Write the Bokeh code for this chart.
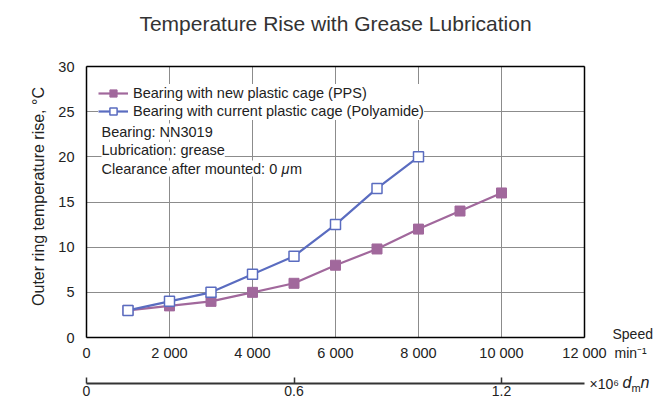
import math
from bokeh.plotting import figure
from bokeh.models import (LinearAxis, Range1d, FixedTicker, Label, Legend, LegendItem)
from bokeh.embed import file_html
from bokeh.resources import INLINE

# ---- data ----
speed_pps = [1000, 2000, 3000, 4000, 5000, 6000, 7000, 8000, 9000, 10000]
temp_pps = [3.0, 3.5, 4.0, 5.0, 6.0, 8.0, 9.8, 12.0, 14.0, 16.0]
speed_pa = [1000, 2000, 3000, 4000, 5000, 6000, 7000, 8000]
temp_pa = [3.0, 4.0, 5.0, 7.0, 9.0, 12.5, 16.5, 20.0]
x_ticks = [0, 2000, 4000, 6000, 8000, 10000, 12000]
x_tick_labels = ["0", "2 000", "4 000", "6 000", "8 000", "10 000", "12 000"]
y_ticks = [0, 5, 10, 15, 20, 25, 30]
dmn_ticks = [0, 0.6, 1.2]
dm_mm = 120  # mean diameter, dmn = dm * n
series_names = ["Bearing with new plastic cage (PPS)",
                "Bearing with current plastic cage (Polyamide)"]
notes = ["Bearing: NN3019", "Lubrication: grease"]
note_clear = ["Clearance after mounted: 0 ", "\u03bc", "m"]
title_text = "Temperature Rise with Grease Lubrication"
y_title = "Outer ring temperature rise, \u00b0C"
x_unit_top, x_unit_bottom = "Speed", "min\u207b\u00b9"
dmn_unit = ["\u00d710\u2076", "d", "m", "n"]

# ---- layout (pixels) ----
W, H = 654, 400
BOX_L, BOX_R, BOX_T, BOX_B = 86, 584, 66, 337
X_MAX, Y_MAX = 12000, 30
SX = X_MAX / (BOX_R - BOX_L)      # data units per px
SY = Y_MAX / (BOX_B - BOX_T)


def px2x(px):
    return (px - BOX_L) * SX


def px2y(py):
    return (BOX_B - py) * SY


FONT = "Liberation Sans"
PURPLE = "#A1689C"
BLUE = "#5A6CC0"
TXT = "#222222"
GRID = "#8c8c8c"
FS = "14.5px"

p = figure(width=W, height=H, output_backend="svg", toolbar_location=None, title=None,
           x_range=Range1d(px2x(0), px2x(W)), y_range=Range1d(px2y(H), px2y(0)),
           min_border=0, min_border_left=0, min_border_right=0, min_border_top=0,
           min_border_bottom=0, x_axis_location=None, y_axis_location=None)
p.background_fill_color = "white"
p.border_fill_color = "white"
p.outline_line_color = None
p.grid.visible = False


def plain(axis):
    axis.minor_tick_line_color = None
    axis.minor_tick_in = 0
    axis.minor_tick_out = 0
    axis.major_label_text_font = FONT
    axis.major_label_text_font_size = FS
    axis.major_label_text_color = TXT
    return axis


# speed axis: labels + vertical grid lines drawn as long inward ticks
xax = plain(LinearAxis(ticker=FixedTicker(ticks=x_ticks), fixed_location=0,
                       bounds=(0, X_MAX), level="underlay",
                       major_label_overrides={t: s for t, s in zip(x_ticks, x_tick_labels)}))
xax.axis_line_color = None
xax.major_tick_line_color = GRID
xax.major_tick_line_width = 1
xax.major_tick_in = BOX_B - BOX_T
xax.major_tick_out = 0
xax.major_label_standoff = 7
p.add_layout(xax, "below")

# temperature axis: labels + horizontal grid lines
yax = plain(LinearAxis(ticker=FixedTicker(ticks=y_ticks), fixed_location=0,
                       bounds=(0, Y_MAX), level="underlay"))
yax.axis_line_color = None
yax.major_tick_line_color = GRID
yax.major_tick_line_width = 1
yax.major_tick_in = BOX_R - BOX_L
yax.major_tick_out = 0
yax.major_label_standoff = 12
p.add_layout(yax, "left")

# dmn axis
p.extra_x_ranges = {"dmn": Range1d(px2x(0) * dm_mm / 1e6, px2x(W) * dm_mm / 1e6)}
dax = plain(LinearAxis(x_range_name="dmn", ticker=FixedTicker(ticks=dmn_ticks),
                       fixed_location=px2y(383), bounds=(0, X_MAX * dm_mm / 1e6)))
dax.axis_line_color = "#333333"
dax.axis_line_width = 2
dax.major_tick_line_color = "#333333"
dax.major_tick_line_width = 1.5
dax.major_tick_in = 6
dax.major_tick_out = 0
dax.major_label_standoff = 2
dax.major_label_text_font_size = "14px"
p.add_layout(dax, "below")

# chart box
for side, loc, rng in [("below", 0, (0, X_MAX)), ("above", Y_MAX, (0, X_MAX)),
                       ("left", 0, (0, Y_MAX)), ("right", X_MAX, (0, Y_MAX))]:
    b = LinearAxis(ticker=FixedTicker(ticks=[]), fixed_location=loc, bounds=rng)
    b.axis_line_color = "black"
    b.axis_line_width = 1.5
    b.major_tick_line_color = None
    b.minor_tick_line_color = None
    b.major_label_text_color = None
    p.add_layout(b, side)

# series
l1 = p.line(speed_pps, temp_pps, line_color=PURPLE, line_width=2.2)
m1 = p.scatter(speed_pps, temp_pps, marker="square", size=10, fill_color=PURPLE,
               line_color=PURPLE)
l2 = p.line(speed_pa, temp_pa, line_color=BLUE, line_width=2.2)
m2 = p.scatter(speed_pa, temp_pa, marker="square", size=10, fill_color="white",
               line_color=BLUE, line_width=1.5)

legend = Legend(items=[LegendItem(label=series_names[0], renderers=[l1, m1]),
                       LegendItem(label=series_names[1], renderers=[l2, m2])],
                location=(98, H - 84 - 36))
legend.margin = 0
legend.padding = 0
legend.spacing = 0
legend.glyph_width = 30
legend.glyph_height = 18
legend.label_height = 18
legend.label_standoff = 5
legend.label_text_font = FONT
legend.label_text_font_size = FS
legend.label_text_color = TXT
legend.border_line_color = None
legend.background_fill_color = "white"
legend.background_fill_alpha = 1
p.add_layout(legend)


def note(px, py, text, style="normal", size=FS, bg=True):
    kw = dict(background_fill_color="white", background_fill_alpha=1) if bg else {}
    p.add_layout(Label(x=px2x(px), y=px2y(py), text=text, text_font=FONT,
                       text_font_size=size, text_font_style=style, text_color=TXT,
                       text_baseline="middle", **kw))


for i, t in enumerate(notes):
    note(101, 131 + 18.5 * i, t)
note(101, 168, note_clear[0])
note(281, 168, note_clear[1], style="italic")
note(289.5, 168, note_clear[2])

p.add_layout(Label(x=px2x((BOX_L + BOX_R) / 2), y=px2y(23), text=title_text,
                   text_font=FONT, text_font_size="21px", text_color="#333333",
                   text_align="center", text_baseline="middle"))
p.add_layout(Label(x=px2x(38), y=px2y(196), text=y_title, angle=math.pi / 2,
                   text_font=FONT, text_font_size="16px", text_color=TXT,
                   text_align="center", text_baseline="middle"))
note(612, 333, x_unit_top, size="14px", bg=False)
note(614, 352, x_unit_bottom, size="14px", bg=False)
note(589, 383, dmn_unit[0], size="14px", bg=False)
note(622, 382, dmn_unit[1], style="italic", size="16px", bg=False)
note(631, 387, dmn_unit[2], size="11px", bg=False)
note(640, 382, dmn_unit[3], style="italic", size="16px", bg=False)

open("out.html", "w").write(file_html(p, INLINE))
